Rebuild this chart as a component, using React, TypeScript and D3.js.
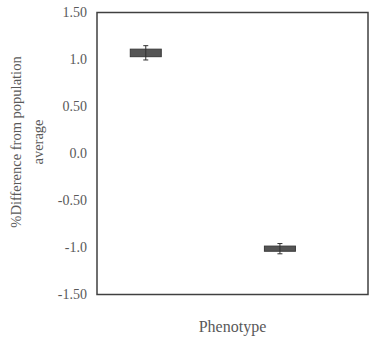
import React from "react";
import * as d3 from "d3";

const categories = ["Phenotype A", "Phenotype B"];
const categoryPos = [0.18, 0.675];
const boxLow = [1.03, -1.04];
const boxHigh = [1.11, -0.985];
const errLow = [0.995, -1.067];
const errHigh = [1.147, -0.958];
const yTicks = [1.5, 1.0, 0.5, 0.0, -0.5, -1.0, -1.5];
const yTickLabels = ["1.50", "1.0", "0.50", "0.0", "-0.50", "-1.0", "-1.50"];

const W = 381;
const H = 339;
const margin = { left: 97, top: 12.5, right: 13, bottom: 44.5 };
const FONT = "'Liberation Serif', serif";

export default function App() {
  const x = d3.scaleLinear().domain([0, 1]).range([margin.left, W - margin.right]);
  const y = d3.scaleLinear().domain([-1.5, 1.5]).range([H - margin.bottom, margin.top]);
  const boxW = 31;
  const capW = 5;
  const cy = (y(1.5) + y(-1.5)) / 2 - 11.5;
  return (
    <svg width={W} height={H} style={{ position: "absolute", left: 0, top: 0 }}>
      <rect
        x={x(0)}
        y={y(1.5)}
        width={x(1) - x(0)}
        height={y(-1.5) - y(1.5)}
        fill="none"
        stroke="#404040"
        strokeWidth={1.5}
      />
      {yTicks.map((t, i) => (
        <text
          key={i}
          x={87}
          y={y(t)}
          dy="0.35em"
          textAnchor="end"
          fontFamily={FONT}
          fontSize={14}
          fill="#595959"
        >
          {yTickLabels[i]}
        </text>
      ))}
      {categories.map((c, i) => {
        const cx = x(categoryPos[i]);
        return (
          <g key={c}>
            <rect
              x={cx - boxW / 2}
              y={y(boxHigh[i])}
              width={boxW}
              height={y(boxLow[i]) - y(boxHigh[i])}
              fill="#555555"
              stroke="#3a3a3a"
              strokeWidth={1}
            />
            <line x1={cx} x2={cx} y1={y(errHigh[i])} y2={y(errLow[i])} stroke="#303030" strokeWidth={1} />
            <line x1={cx - capW / 2} x2={cx + capW / 2} y1={y(errHigh[i])} y2={y(errHigh[i])} stroke="#303030" strokeWidth={1} />
            <line x1={cx - capW / 2} x2={cx + capW / 2} y1={y(errLow[i])} y2={y(errLow[i])} stroke="#303030" strokeWidth={1} />
          </g>
        );
      })}
      <g transform={`translate(21, ${cy}) rotate(-90)`}>
        <text textAnchor="middle" fontFamily={FONT} fontSize={14.5} fill="#595959">
          %Difference from population
        </text>
      </g>
      <g transform={`translate(43, ${cy}) rotate(-90)`}>
        <text textAnchor="middle" fontFamily={FONT} fontSize={14.5} fill="#595959">
          average
        </text>
      </g>
      <text
        x={(x(0) + x(1)) / 2}
        y={332}
        textAnchor="middle"
        fontFamily={FONT}
        fontSize={16}
        fill="#595959"
      >
        Phenotype
      </text>
    </svg>
  );
}
